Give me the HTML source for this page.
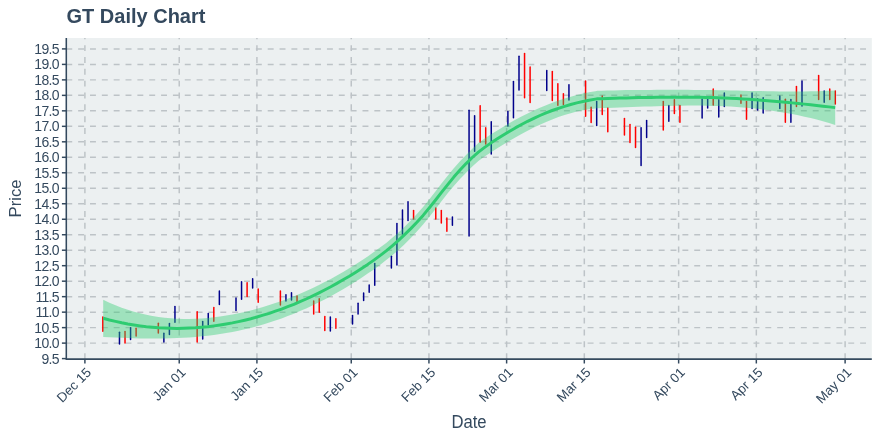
<!DOCTYPE html>
<html lang="en"><head><meta charset="utf-8"><title>GT Daily Chart</title>
<style>html,body{margin:0;padding:0;background:#fff;}body{width:880px;height:440px;overflow:hidden;font-family:"Liberation Sans",sans-serif;}svg{display:block;}text{font-family:"Liberation Sans",sans-serif;fill:#34495e;}</style></head><body>
<svg width="880" height="440" viewBox="0 0 880 440">
<rect x="0" y="0" width="880" height="440" fill="#ffffff"/>
<rect x="66.3" y="38.0" width="805.50" height="321.10" fill="#ecf0f1"/>
<clipPath id="pc"><rect x="66.3" y="38.0" width="805.50" height="321.10"/></clipPath>
<g clip-path="url(#pc)" stroke="#bdc3c7" stroke-width="1.48" stroke-dasharray="5.924 5.924" fill="none">
<line x1="66.3" y1="343.12" x2="871.8" y2="343.12"/>
<line x1="66.3" y1="327.63" x2="871.8" y2="327.63"/>
<line x1="66.3" y1="312.15" x2="871.8" y2="312.15"/>
<line x1="66.3" y1="296.66" x2="871.8" y2="296.66"/>
<line x1="66.3" y1="281.18" x2="871.8" y2="281.18"/>
<line x1="66.3" y1="265.69" x2="871.8" y2="265.69"/>
<line x1="66.3" y1="250.21" x2="871.8" y2="250.21"/>
<line x1="66.3" y1="234.72" x2="871.8" y2="234.72"/>
<line x1="66.3" y1="219.24" x2="871.8" y2="219.24"/>
<line x1="66.3" y1="203.75" x2="871.8" y2="203.75"/>
<line x1="66.3" y1="188.27" x2="871.8" y2="188.27"/>
<line x1="66.3" y1="172.78" x2="871.8" y2="172.78"/>
<line x1="66.3" y1="157.30" x2="871.8" y2="157.30"/>
<line x1="66.3" y1="141.81" x2="871.8" y2="141.81"/>
<line x1="66.3" y1="126.33" x2="871.8" y2="126.33"/>
<line x1="66.3" y1="110.84" x2="871.8" y2="110.84"/>
<line x1="66.3" y1="95.36" x2="871.8" y2="95.36"/>
<line x1="66.3" y1="79.87" x2="871.8" y2="79.87"/>
<line x1="66.3" y1="64.39" x2="871.8" y2="64.39"/>
<line x1="66.3" y1="48.90" x2="871.8" y2="48.90"/>
<line x1="84.90" y1="359.1" x2="84.90" y2="28.0"/>
<line x1="179.23" y1="359.1" x2="179.23" y2="28.0"/>
<line x1="256.92" y1="359.1" x2="256.92" y2="28.0"/>
<line x1="351.25" y1="359.1" x2="351.25" y2="28.0"/>
<line x1="428.94" y1="359.1" x2="428.94" y2="28.0"/>
<line x1="506.62" y1="359.1" x2="506.62" y2="28.0"/>
<line x1="584.31" y1="359.1" x2="584.31" y2="28.0"/>
<line x1="678.64" y1="359.1" x2="678.64" y2="28.0"/>
<line x1="756.33" y1="359.1" x2="756.33" y2="28.0"/>
<line x1="845.11" y1="359.1" x2="845.11" y2="28.0"/>
</g>
<g stroke-width="1.5" fill="none" stroke-linecap="round">
<line x1="102.83" y1="316.9" x2="102.83" y2="331.3" stroke="#ff0000"/>
<line x1="119.47" y1="332.3" x2="119.47" y2="344.0" stroke="#00008b"/>
<line x1="125.02" y1="331.4" x2="125.02" y2="343.1" stroke="#ff0000"/>
<line x1="130.57" y1="327.8" x2="130.57" y2="339.5" stroke="#00008b"/>
<line x1="136.12" y1="328.3" x2="136.12" y2="335.9" stroke="#ff0000"/>
<line x1="158.32" y1="323.2" x2="158.32" y2="333.1" stroke="#ff0000"/>
<line x1="163.87" y1="333.2" x2="163.87" y2="341.9" stroke="#00008b"/>
<line x1="169.41" y1="323.6" x2="169.41" y2="334.4" stroke="#00008b"/>
<line x1="174.96" y1="306.5" x2="174.96" y2="322.2" stroke="#00008b"/>
<line x1="197.16" y1="311.8" x2="197.16" y2="341.9" stroke="#ff0000"/>
<line x1="202.71" y1="321.4" x2="202.71" y2="339.1" stroke="#00008b"/>
<line x1="208.26" y1="313.6" x2="208.26" y2="325.0" stroke="#00008b"/>
<line x1="213.81" y1="307.4" x2="213.81" y2="321.3" stroke="#ff0000"/>
<line x1="219.36" y1="291.0" x2="219.36" y2="304.4" stroke="#00008b"/>
<line x1="236.00" y1="298.1" x2="236.00" y2="310.4" stroke="#00008b"/>
<line x1="241.55" y1="281.8" x2="241.55" y2="299.3" stroke="#00008b"/>
<line x1="247.10" y1="282.7" x2="247.10" y2="296.4" stroke="#ff0000"/>
<line x1="252.65" y1="278.7" x2="252.65" y2="288.0" stroke="#00008b"/>
<line x1="258.20" y1="289.0" x2="258.20" y2="302.2" stroke="#ff0000"/>
<line x1="280.39" y1="291.0" x2="280.39" y2="305.0" stroke="#ff0000"/>
<line x1="285.94" y1="294.7" x2="285.94" y2="301.0" stroke="#00008b"/>
<line x1="291.49" y1="292.7" x2="291.49" y2="299.9" stroke="#00008b"/>
<line x1="297.04" y1="296.0" x2="297.04" y2="301.7" stroke="#ff0000"/>
<line x1="313.69" y1="300.9" x2="313.69" y2="314.0" stroke="#ff0000"/>
<line x1="319.24" y1="298.7" x2="319.24" y2="312.2" stroke="#ff0000"/>
<line x1="324.79" y1="316.5" x2="324.79" y2="330.4" stroke="#ff0000"/>
<line x1="330.34" y1="316.9" x2="330.34" y2="331.0" stroke="#00008b"/>
<line x1="335.88" y1="318.7" x2="335.88" y2="328.2" stroke="#ff0000"/>
<line x1="352.53" y1="315.4" x2="352.53" y2="324.0" stroke="#00008b"/>
<line x1="358.08" y1="303.2" x2="358.08" y2="314.0" stroke="#00008b"/>
<line x1="363.63" y1="292.9" x2="363.63" y2="300.4" stroke="#00008b"/>
<line x1="369.18" y1="285.0" x2="369.18" y2="292.2" stroke="#00008b"/>
<line x1="374.73" y1="263.5" x2="374.73" y2="285.3" stroke="#00008b"/>
<line x1="391.38" y1="256.3" x2="391.38" y2="268.1" stroke="#00008b"/>
<line x1="396.92" y1="223.6" x2="396.92" y2="265.0" stroke="#00008b"/>
<line x1="402.47" y1="210.0" x2="402.47" y2="234.0" stroke="#00008b"/>
<line x1="408.02" y1="201.8" x2="408.02" y2="220.4" stroke="#00008b"/>
<line x1="413.57" y1="210.5" x2="413.57" y2="219.1" stroke="#ff0000"/>
<line x1="435.77" y1="208.1" x2="435.77" y2="219.0" stroke="#ff0000"/>
<line x1="441.32" y1="210.5" x2="441.32" y2="223.1" stroke="#ff0000"/>
<line x1="446.87" y1="218.1" x2="446.87" y2="231.3" stroke="#ff0000"/>
<line x1="452.41" y1="216.9" x2="452.41" y2="225.3" stroke="#00008b"/>
<line x1="469.06" y1="110.3" x2="469.06" y2="235.9" stroke="#00008b"/>
<line x1="474.61" y1="115.8" x2="474.61" y2="151.3" stroke="#00008b"/>
<line x1="480.16" y1="105.8" x2="480.16" y2="142.2" stroke="#ff0000"/>
<line x1="485.71" y1="127.8" x2="485.71" y2="144.0" stroke="#ff0000"/>
<line x1="491.26" y1="121.8" x2="491.26" y2="154.0" stroke="#00008b"/>
<line x1="507.90" y1="111.4" x2="507.90" y2="125.9" stroke="#00008b"/>
<line x1="513.45" y1="81.4" x2="513.45" y2="117.7" stroke="#00008b"/>
<line x1="519.00" y1="56.3" x2="519.00" y2="90.1" stroke="#00008b"/>
<line x1="524.55" y1="53.6" x2="524.55" y2="97.7" stroke="#ff0000"/>
<line x1="530.10" y1="66.9" x2="530.10" y2="102.6" stroke="#ff0000"/>
<line x1="546.75" y1="70.5" x2="546.75" y2="90.4" stroke="#00008b"/>
<line x1="552.30" y1="71.4" x2="552.30" y2="100.4" stroke="#ff0000"/>
<line x1="557.85" y1="83.8" x2="557.85" y2="105.2" stroke="#ff0000"/>
<line x1="563.39" y1="93.7" x2="563.39" y2="104.5" stroke="#ff0000"/>
<line x1="568.94" y1="84.7" x2="568.94" y2="99.9" stroke="#00008b"/>
<line x1="585.59" y1="80.9" x2="585.59" y2="116.3" stroke="#ff0000"/>
<line x1="591.14" y1="107.3" x2="591.14" y2="122.5" stroke="#ff0000"/>
<line x1="596.69" y1="101.4" x2="596.69" y2="125.5" stroke="#00008b"/>
<line x1="602.24" y1="95.9" x2="602.24" y2="114.5" stroke="#ff0000"/>
<line x1="607.79" y1="108.1" x2="607.79" y2="131.8" stroke="#ff0000"/>
<line x1="624.43" y1="118.6" x2="624.43" y2="135.0" stroke="#ff0000"/>
<line x1="629.98" y1="124.6" x2="629.98" y2="142.6" stroke="#ff0000"/>
<line x1="635.53" y1="127.2" x2="635.53" y2="147.5" stroke="#ff0000"/>
<line x1="641.08" y1="127.8" x2="641.08" y2="165.4" stroke="#00008b"/>
<line x1="646.63" y1="120.6" x2="646.63" y2="137.4" stroke="#00008b"/>
<line x1="663.28" y1="101.5" x2="663.28" y2="130.1" stroke="#ff0000"/>
<line x1="668.83" y1="105.5" x2="668.83" y2="121.3" stroke="#00008b"/>
<line x1="674.37" y1="99.7" x2="674.37" y2="113.6" stroke="#ff0000"/>
<line x1="679.92" y1="105.5" x2="679.92" y2="122.2" stroke="#ff0000"/>
<line x1="702.12" y1="99.1" x2="702.12" y2="118.1" stroke="#00008b"/>
<line x1="707.67" y1="99.1" x2="707.67" y2="108.1" stroke="#00008b"/>
<line x1="713.22" y1="89.1" x2="713.22" y2="105.0" stroke="#ff0000"/>
<line x1="718.77" y1="99.7" x2="718.77" y2="117.1" stroke="#00008b"/>
<line x1="724.31" y1="93.1" x2="724.31" y2="106.5" stroke="#00008b"/>
<line x1="740.96" y1="95.0" x2="740.96" y2="103.2" stroke="#ff0000"/>
<line x1="746.51" y1="101.5" x2="746.51" y2="119.3" stroke="#ff0000"/>
<line x1="752.06" y1="92.9" x2="752.06" y2="108.6" stroke="#00008b"/>
<line x1="757.61" y1="98.7" x2="757.61" y2="109.9" stroke="#00008b"/>
<line x1="763.16" y1="97.8" x2="763.16" y2="113.1" stroke="#00008b"/>
<line x1="779.80" y1="96.0" x2="779.80" y2="108.6" stroke="#00008b"/>
<line x1="785.35" y1="99.2" x2="785.35" y2="122.2" stroke="#ff0000"/>
<line x1="790.90" y1="99.6" x2="790.90" y2="122.2" stroke="#00008b"/>
<line x1="796.45" y1="86.5" x2="796.45" y2="106.4" stroke="#ff0000"/>
<line x1="802.00" y1="80.9" x2="802.00" y2="105.9" stroke="#00008b"/>
<line x1="818.65" y1="75.6" x2="818.65" y2="99.5" stroke="#ff0000"/>
<line x1="824.20" y1="91.0" x2="824.20" y2="102.2" stroke="#00008b"/>
<line x1="829.75" y1="89.0" x2="829.75" y2="99.5" stroke="#ff0000"/>
<line x1="835.29" y1="91.0" x2="835.29" y2="104.0" stroke="#ff0000"/>
</g>
<polygon points="103.2,299.8 109.4,302.7 115.5,305.3 121.7,307.7 127.8,309.8 134.0,311.7 140.1,313.3 146.3,314.8 152.4,316.0 158.6,317.0 164.7,317.7 170.9,318.3 177.0,318.7 183.2,318.9 189.3,318.9 195.5,318.8 201.6,318.5 207.8,318.0 213.9,317.3 220.1,316.5 226.2,315.6 232.4,314.5 238.5,313.2 244.7,311.9 250.8,310.4 257.0,308.8 263.1,307.0 269.3,305.1 275.4,303.1 281.6,301.0 287.7,298.7 293.9,296.3 300.0,293.7 306.2,291.0 312.3,288.2 318.5,285.2 324.6,282.1 330.8,278.9 336.9,275.5 343.1,272.0 349.3,268.3 355.4,264.5 361.6,260.5 367.7,256.4 373.9,252.1 380.0,247.6 386.2,242.9 392.3,237.8 398.5,232.5 404.6,226.7 410.8,220.5 416.9,214.0 423.1,207.0 429.2,199.5 435.4,191.6 441.5,183.6 447.7,175.8 453.8,168.3 460.0,161.3 466.1,154.9 472.3,148.7 478.4,143.1 484.6,138.5 490.7,134.6 496.9,130.7 503.0,126.9 509.2,123.2 515.3,119.7 521.5,116.4 527.6,113.4 533.8,110.5 539.9,107.8 546.1,105.2 552.2,102.8 558.4,100.6 564.5,98.6 570.7,96.7 576.8,95.1 583.0,93.6 589.1,92.3 595.3,91.2 597.5,90.8 601.5,90.7 607.6,90.5 613.8,90.4 619.9,90.3 626.1,90.1 632.2,90.1 638.4,90.0 644.5,89.9 650.7,89.9 656.8,89.8 663.0,89.8 669.1,89.8 675.3,89.8 681.4,89.8 687.6,89.8 693.7,89.9 699.9,90.0 706.0,90.0 712.2,90.1 718.3,90.2 724.5,90.3 730.6,90.5 736.8,90.6 742.9,90.7 749.1,90.9 755.2,91.0 761.4,91.1 767.5,91.2 773.7,91.3 779.8,91.4 786.0,91.4 792.1,91.5 798.3,91.4 804.4,91.4 810.6,91.3 816.7,91.2 822.9,91.0 829.0,90.8 835.2,90.5 835.2,125.0 829.0,123.1 822.9,121.3 816.7,119.6 810.6,118.1 804.4,116.7 798.3,115.3 792.1,114.1 786.0,113.0 779.8,111.9 773.7,111.0 767.5,110.1 761.4,109.3 755.2,108.6 749.1,108.0 742.9,107.5 736.8,107.0 730.6,106.6 724.5,106.3 718.3,106.1 712.2,105.9 706.0,105.7 699.9,105.6 693.7,105.6 687.6,105.6 681.4,105.7 675.3,105.8 669.1,105.9 663.0,106.0 656.8,106.2 650.7,106.4 644.5,106.6 638.4,106.8 632.2,107.0 626.1,107.3 619.9,107.5 613.8,107.7 607.6,107.9 601.5,108.1 597.5,108.2 595.3,108.4 589.1,109.2 583.0,110.3 576.8,111.6 570.7,113.2 564.5,115.1 558.4,117.1 552.2,119.4 546.1,121.9 539.9,124.7 533.8,127.6 527.6,130.7 521.5,134.0 515.3,137.4 509.2,141.0 503.0,144.8 496.9,148.6 490.7,152.5 484.6,156.4 478.4,160.9 472.3,166.4 466.1,172.7 460.0,179.0 453.8,185.9 447.7,193.3 441.5,201.2 435.4,209.2 429.2,217.0 423.1,224.6 416.9,231.5 410.8,237.9 404.6,244.2 398.5,249.9 392.3,255.2 386.2,260.1 380.0,264.9 373.9,269.4 367.7,273.6 361.6,277.8 355.4,281.7 349.3,285.6 343.1,289.3 336.9,292.8 330.8,296.2 324.6,299.5 318.5,302.6 312.3,305.6 306.2,308.4 300.0,311.1 293.9,313.7 287.7,316.1 281.6,318.4 275.4,320.6 269.3,322.6 263.1,324.5 257.0,326.2 250.8,327.9 244.7,329.3 238.5,330.7 232.4,331.9 226.2,333.0 220.1,334.0 213.9,334.9 207.8,335.7 201.6,336.3 195.5,336.9 189.3,337.4 183.2,337.7 177.0,338.0 170.9,338.3 164.7,338.4 158.6,338.5 152.4,338.5 146.3,338.5 140.1,338.4 134.0,338.2 127.8,338.1 121.7,337.8 115.5,337.6 109.4,337.3 103.2,337.0" fill="#2ecc71" fill-opacity="0.4"/>
<polyline points="103.2,318.3 109.4,320.0 115.5,321.4 121.7,322.8 127.8,324.0 134.0,325.0 140.1,325.9 146.3,326.7 152.4,327.3 158.6,327.8 164.7,328.1 170.9,328.3 177.0,328.4 183.2,328.3 189.3,328.1 195.5,327.8 201.6,327.3 207.8,326.7 213.9,325.9 220.1,325.0 226.2,324.0 232.4,322.9 238.5,321.6 244.7,320.2 250.8,318.7 257.0,317.0 263.1,315.2 269.3,313.3 275.4,311.2 281.6,309.1 287.7,306.7 293.9,304.3 300.0,301.7 306.2,299.0 312.3,296.1 318.5,293.1 324.6,290.0 330.8,286.8 336.9,283.4 343.1,279.8 349.3,276.2 355.4,272.4 361.6,268.4 367.7,264.4 373.9,260.1 380.0,255.6 386.2,250.9 392.3,245.8 398.5,240.4 404.6,234.6 410.8,228.6 416.9,222.3 423.1,215.4 429.2,208.0 435.4,200.3 441.5,192.4 447.7,184.6 453.8,177.1 460.0,170.1 466.1,163.6 472.3,157.5 478.4,152.1 484.6,147.4 490.7,143.1 496.9,139.1 503.0,135.2 509.2,131.5 515.3,127.9 521.5,124.5 527.6,121.3 533.8,118.3 539.9,115.5 546.1,112.9 552.2,110.5 558.4,108.3 564.5,106.3 570.7,104.5 576.8,102.9 583.0,101.5 589.1,100.2 595.3,99.1 597.5,98.8 601.5,98.7 607.6,98.5 613.8,98.3 619.9,98.1 626.1,97.9 632.2,97.8 638.4,97.6 644.5,97.5 650.7,97.4 656.8,97.3 663.0,97.2 669.1,97.2 675.3,97.2 681.4,97.2 687.6,97.2 693.7,97.2 699.9,97.3 706.0,97.5 712.2,97.6 718.3,97.8 724.5,98.0 730.6,98.3 736.8,98.6 742.9,98.9 749.1,99.3 755.2,99.7 761.4,100.2 767.5,100.7 773.7,101.2 779.8,101.7 786.0,102.3 792.1,102.9 798.3,103.5 804.4,104.1 810.6,104.8 816.7,105.5 822.9,106.2 829.0,106.9 835.2,107.6" fill="none" stroke="#2ecc71" stroke-width="2.96" stroke-linejoin="round"/>
<g stroke="#34495e" fill="none">
<path d="M66.3,38.0 L66.3,359.1 L871.8,359.1" stroke-width="1.55" stroke-linejoin="miter"/>
<line x1="61.9" y1="358.60" x2="66.3" y2="358.60" stroke-width="1.48"/>
<line x1="61.9" y1="343.12" x2="66.3" y2="343.12" stroke-width="1.48"/>
<line x1="61.9" y1="327.63" x2="66.3" y2="327.63" stroke-width="1.48"/>
<line x1="61.9" y1="312.15" x2="66.3" y2="312.15" stroke-width="1.48"/>
<line x1="61.9" y1="296.66" x2="66.3" y2="296.66" stroke-width="1.48"/>
<line x1="61.9" y1="281.18" x2="66.3" y2="281.18" stroke-width="1.48"/>
<line x1="61.9" y1="265.69" x2="66.3" y2="265.69" stroke-width="1.48"/>
<line x1="61.9" y1="250.21" x2="66.3" y2="250.21" stroke-width="1.48"/>
<line x1="61.9" y1="234.72" x2="66.3" y2="234.72" stroke-width="1.48"/>
<line x1="61.9" y1="219.24" x2="66.3" y2="219.24" stroke-width="1.48"/>
<line x1="61.9" y1="203.75" x2="66.3" y2="203.75" stroke-width="1.48"/>
<line x1="61.9" y1="188.27" x2="66.3" y2="188.27" stroke-width="1.48"/>
<line x1="61.9" y1="172.78" x2="66.3" y2="172.78" stroke-width="1.48"/>
<line x1="61.9" y1="157.30" x2="66.3" y2="157.30" stroke-width="1.48"/>
<line x1="61.9" y1="141.81" x2="66.3" y2="141.81" stroke-width="1.48"/>
<line x1="61.9" y1="126.33" x2="66.3" y2="126.33" stroke-width="1.48"/>
<line x1="61.9" y1="110.84" x2="66.3" y2="110.84" stroke-width="1.48"/>
<line x1="61.9" y1="95.36" x2="66.3" y2="95.36" stroke-width="1.48"/>
<line x1="61.9" y1="79.87" x2="66.3" y2="79.87" stroke-width="1.48"/>
<line x1="61.9" y1="64.39" x2="66.3" y2="64.39" stroke-width="1.48"/>
<line x1="61.9" y1="48.90" x2="66.3" y2="48.90" stroke-width="1.48"/>
<line x1="84.90" y1="359.1" x2="84.90" y2="363.5" stroke-width="1.48"/>
<line x1="179.23" y1="359.1" x2="179.23" y2="363.5" stroke-width="1.48"/>
<line x1="256.92" y1="359.1" x2="256.92" y2="363.5" stroke-width="1.48"/>
<line x1="351.25" y1="359.1" x2="351.25" y2="363.5" stroke-width="1.48"/>
<line x1="428.94" y1="359.1" x2="428.94" y2="363.5" stroke-width="1.48"/>
<line x1="506.62" y1="359.1" x2="506.62" y2="363.5" stroke-width="1.48"/>
<line x1="584.31" y1="359.1" x2="584.31" y2="363.5" stroke-width="1.48"/>
<line x1="678.64" y1="359.1" x2="678.64" y2="363.5" stroke-width="1.48"/>
<line x1="756.33" y1="359.1" x2="756.33" y2="363.5" stroke-width="1.48"/>
<line x1="845.11" y1="359.1" x2="845.11" y2="363.5" stroke-width="1.48"/>
</g>
<g font-size="14" text-anchor="end" letter-spacing="-0.7">
<text x="58.8" y="364">9.5</text>
<text x="58.8" y="348">10.0</text>
<text x="58.8" y="333">10.5</text>
<text x="58.8" y="317">11.0</text>
<text x="58.8" y="302">11.5</text>
<text x="58.8" y="286">12.0</text>
<text x="58.8" y="271">12.5</text>
<text x="58.8" y="255">13.0</text>
<text x="58.8" y="240">13.5</text>
<text x="58.8" y="224">14.0</text>
<text x="58.8" y="209">14.5</text>
<text x="58.8" y="193">15.0</text>
<text x="58.8" y="178">15.5</text>
<text x="58.8" y="162">16.0</text>
<text x="58.8" y="147">16.5</text>
<text x="58.8" y="131">17.0</text>
<text x="58.8" y="116">17.5</text>
<text x="58.8" y="100">18.0</text>
<text x="58.8" y="85">18.5</text>
<text x="58.8" y="69">19.0</text>
<text x="58.8" y="54">19.5</text>
</g>
<g font-size="13.33" text-anchor="end">
<text transform="translate(92.10,373.3) rotate(-45)">Dec 15</text>
<text transform="translate(186.43,373.3) rotate(-45)">Jan 01</text>
<text transform="translate(264.12,373.3) rotate(-45)">Jan 15</text>
<text transform="translate(358.45,373.3) rotate(-45)">Feb 01</text>
<text transform="translate(436.14,373.3) rotate(-45)">Feb 15</text>
<text transform="translate(513.82,373.3) rotate(-45)">Mar 01</text>
<text transform="translate(591.51,373.3) rotate(-45)">Mar 15</text>
<text transform="translate(685.84,373.3) rotate(-45)">Apr 01</text>
<text transform="translate(763.53,373.3) rotate(-45)">Apr 15</text>
<text transform="translate(852.31,373.3) rotate(-45)">May 01</text>
</g>
<text x="66.5" y="22.8" font-size="20" font-weight="bold">GT Daily Chart</text>
<text transform="translate(469,428) scale(1,1.05)" font-size="16.67" text-anchor="middle">Date</text>
<text transform="translate(20.6,198.5) rotate(-90)" font-size="16.67" text-anchor="middle">Price</text>
</svg></body></html>
